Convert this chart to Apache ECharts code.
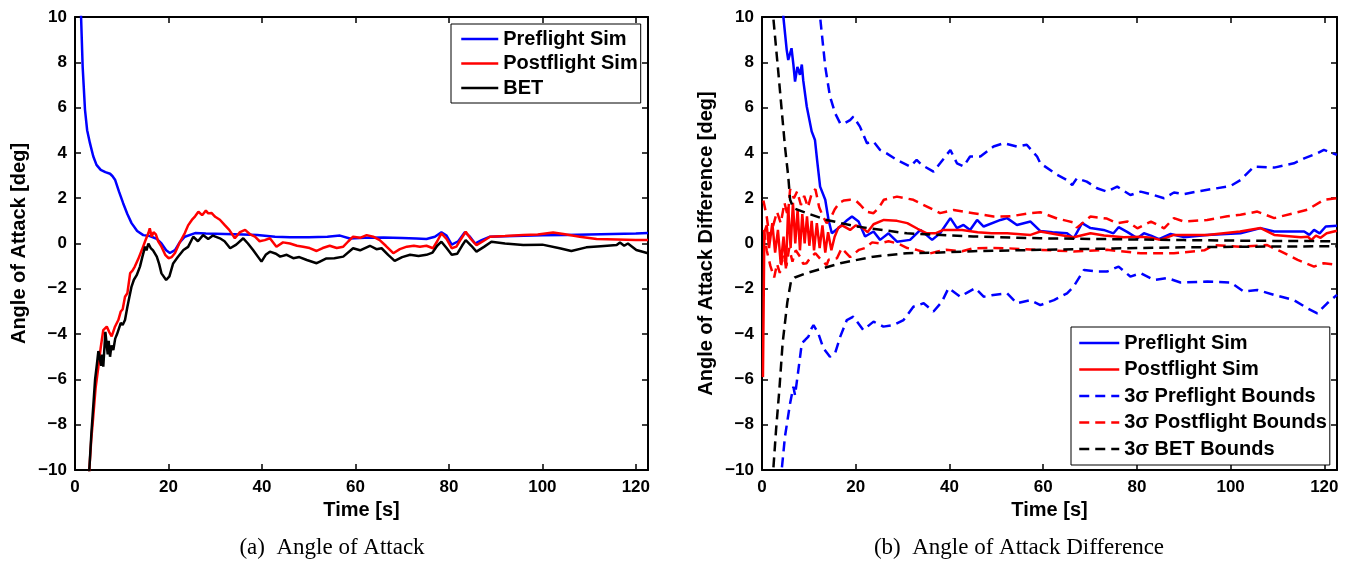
<!DOCTYPE html>
<html><head><meta charset="utf-8">
<script src="https://cdn.jsdelivr.net/npm/echarts/dist/echarts.min.js"></script>
<style>html,body{margin:0;padding:0;background:#fff}#c{width:1355px;height:561px}</style>
</head><body><div id="c"></div><script>
// ---------- axis / tick data ----------
const xTicks = [0, 20, 40, 60, 80, 100, 120];
const yTicks = [-10, -8, -6, -4, -2, 0, 2, 4, 6, 8, 10];
const xMaxLeft = 122.6, xMaxRight = 122.7;
const legendLeft = ['Preflight Sim', 'Postflight Sim', 'BET'];
const legendRight = ['Preflight Sim', 'Postflight Sim', '3σ Preflight Bounds', '3σ Postflight Bounds', '3σ BET Bounds'];
const captions = ['(a)  Angle of Attack', '(b)  Angle of Attack Difference'];

// ---------- (a) Angle of Attack  [time s, deg] ----------
const aoaPreflight = [[0.5,14],[1.3,10.0],[1.64,7.8],[2.14,5.9],[2.6,5.0],[3.2,4.43],[3.9,3.85],[4.6,3.47],[5.5,3.25],[6.5,3.15],[7.5,3.08],[8.0,2.98],[8.6,2.8],[9.4,2.3],[10.3,1.78],[11.2,1.3],[12.1,0.9],[13.3,0.55],[14.6,0.37],[16,0.33],[17.5,0.2],[18.5,0.0],[19.5,-0.3],[20.3,-0.42],[21.4,-0.29],[22.4,0.05],[23.5,0.3],[25.7,0.46],[28,0.44],[32,0.42],[36,0.4],[39,0.38],[42.8,0.3],[46,0.28],[50,0.28],[54,0.3],[56.7,0.35],[58.8,0.22],[62,0.25],[66,0.26],[70,0.24],[73,0.22],[75.2,0.2],[77,0.3],[78.4,0.5],[79.5,0.35],[80.6,-0.05],[82,0.1],[83.4,0.5],[84.5,0.3],[85.6,0.0],[87,0.15],[88.8,0.3],[92,0.32],[96,0.34],[100,0.36],[105,0.38],[110,0.4],[115,0.42],[120,0.44],[122.6,0.46]];
const aoaPostflight = [[2.9,-11],[3.06,-10],[3.5,-8.6],[3.9,-7.65],[4.4,-6.4],[5.0,-5.44],[5.5,-4.6],[6.05,-3.82],[6.8,-3.67],[7.3,-3.9],[7.85,-4.1],[8.5,-3.7],[9.27,-3.38],[9.8,-3.0],[10.2,-2.9],[10.7,-2.35],[11.2,-2.2],[11.8,-1.31],[12.3,-1.2],[12.8,-1.02],[13.5,-0.7],[14.3,-0.29],[15,0.1],[15.7,0.46],[16.0,0.67],[16.4,0.3],[16.8,0.5],[17.3,0.4],[17.8,0.1],[18.5,-0.14],[19.3,-0.5],[20,-0.65],[20.7,-0.6],[21.4,-0.42],[22.3,0.0],[23.5,0.46],[24.2,0.8],[25,1.04],[25.7,1.2],[26.4,1.4],[27.2,1.25],[28.0,1.45],[28.5,1.33],[29.2,1.35],[30,1.18],[31,1.05],[32,0.82],[33,0.6],[34.2,0.23],[35.3,0.5],[36.4,0.6],[37.5,0.4],[38.5,0.3],[39.5,0.1],[40.6,0.15],[41.7,0.23],[43.1,-0.14],[44.5,0.05],[46,0.0],[47.5,-0.1],[48.8,-0.14],[50.2,-0.2],[51.7,-0.33],[53,-0.2],[54.5,-0.1],[56,-0.2],[57.4,-0.14],[58.5,0.1],[59.5,0.3],[61,0.25],[62.4,0.37],[63.8,0.3],[65.2,0.15],[66.5,-0.1],[68.1,-0.43],[69.5,-0.25],[71,-0.14],[72.5,-0.1],[73.8,-0.14],[75.2,-0.1],[76.6,-0.21],[77.5,0.1],[78.4,0.45],[79.5,0.2],[80.6,-0.21],[81.6,-0.14],[82.6,0.2],[83.6,0.52],[84.7,0.2],[85.9,-0.07],[87.3,0.1],[88.8,0.3],[92,0.33],[95.9,0.37],[99,0.4],[102.3,0.49],[104.5,0.42],[108,0.3],[111.6,0.2],[116,0.18],[120,0.16],[122.6,0.15]];
const aoaBET = [[2.9,-11],[3.06,-10],[3.5,-8.4],[4.0,-6.9],[4.3,-6.0],[4.7,-5.3],[5.0,-4.75],[5.35,-4.78],[5.6,-5.4],[5.8,-4.9],[6.05,-5.44],[6.3,-4.6],[6.5,-3.9],[6.8,-3.95],[7.0,-4.9],[7.2,-4.3],[7.5,-5.0],[7.8,-4.5],[8.2,-4.7],[8.6,-4.2],[9.0,-4.0],[9.3,-3.96],[9.8,-3.5],[10.2,-3.6],[10.7,-3.38],[11.2,-2.8],[11.6,-2.4],[12.1,-1.9],[12.6,-1.6],[13.2,-1.4],[13.9,-1.02],[14.4,-0.6],[15,-0.14],[15.3,-0.3],[15.7,0.0],[16.2,-0.2],[16.7,-0.3],[17.5,-0.58],[18.0,-0.9],[18.5,-1.32],[19.5,-1.61],[20.2,-1.45],[21,-0.88],[22,-0.6],[23.2,-0.29],[24.2,-0.15],[25.3,0.3],[26.3,0.1],[27.4,0.37],[28.5,0.2],[29.5,0.35],[31,0.23],[32,0.1],[33.2,-0.21],[34.5,-0.05],[36,0.23],[37,0.0],[38.1,-0.29],[39.9,-0.8],[40.8,-0.5],[41.7,-0.36],[43,-0.45],[43.9,-0.58],[45.3,-0.5],[46.7,-0.65],[48,-0.6],[49.6,-0.73],[51.7,-0.87],[52.4,-0.8],[53.8,-0.66],[55.5,-0.65],[57.4,-0.58],[59.5,-0.21],[61,-0.3],[63.1,-0.1],[64.5,-0.25],[65.6,-0.21],[67,-0.5],[68.4,-0.77],[70,-0.6],[71.7,-0.5],[73.5,-0.55],[75.2,-0.5],[76.5,-0.4],[77.5,-0.1],[78.4,0.08],[79.5,-0.2],[80.6,-0.5],[81.8,-0.45],[82.8,-0.1],[83.6,0.15],[84.8,-0.1],[85.9,-0.36],[87.5,-0.15],[89.1,0.08],[92,0.0],[95.9,-0.07],[100,-0.05],[103.7,-0.21],[106.2,-0.33],[109.4,-0.17],[112.5,-0.12],[115.9,-0.07],[116.6,0.04],[117.5,-0.1],[118.3,0.0],[120.1,-0.29],[122.6,-0.43]];

// ---------- (b) Angle of Attack Difference  [time s, deg] ----------
const diffPreflight = [[4.0,12],[4.56,10],[5.27,8.55],[5.6,8.1],[6.3,8.62],[6.7,7.9],[7.05,7.15],[7.55,7.8],[8.1,7.45],[8.5,7.9],[8.8,7.2],[9.55,6.05],[10.6,4.95],[11.3,4.57],[11.8,3.6],[12.4,2.51],[13.5,1.93],[14.2,1.04],[14.9,0.45],[15.8,0.6],[16.7,0.75],[18,1.0],[19.2,1.19],[20.6,0.97],[22,0.31],[23.8,0.53],[25.2,0.16],[27,0.45],[28.8,0.08],[31.6,0.16],[33.8,0.6],[36.3,0.16],[38,0.45],[40.2,1.12],[41.6,0.68],[43,0.82],[44.4,0.6],[45.9,1.04],[47.3,0.75],[50.9,1.04],[52.3,1.12],[54.4,0.82],[57.3,0.97],[59.4,0.55],[62,0.5],[65.1,0.45],[66.5,0.23],[68.3,0.9],[70.1,0.68],[72.9,0.6],[75,0.45],[76.1,0.72],[78,0.5],[80.1,0.23],[81.5,0.45],[83,0.35],[84.7,0.19],[87.2,0.42],[90,0.28],[95,0.38],[102.1,0.45],[106.4,0.68],[109.3,0.53],[115.7,0.53],[116.8,0.38],[117.8,0.6],[119,0.45],[120.3,0.75],[122.7,0.78]];
const diffPostflight = [[0.2,-5.9],[0.5,0.5],[1.0,0.8],[1.5,-0.2],[2.2,0.9],[2.8,-0.4],[3.4,0.6],[4.0,-0.9],[4.6,0.3],[5.1,-1.1],[5.6,1.6],[6.1,-0.2],[6.6,1.8],[7.1,0.0],[7.6,1.5],[8.1,-0.3],[8.6,1.3],[9.1,0.0],[9.6,1.2],[10.1,-0.1],[10.6,1.0],[11.1,-0.3],[11.7,0.9],[12.3,-0.2],[12.9,0.8],[13.5,-0.4],[14.1,0.5],[14.8,-0.3],[15.5,0.3],[16.3,0.7],[17.1,0.8],[18.8,0.6],[20,0.8],[21.4,0.7],[22.5,0.5],[23.8,0.85],[26,1.04],[28.8,1.0],[31,0.9],[33.2,0.65],[35.2,0.45],[37,0.45],[38.7,0.6],[42.7,0.6],[46,0.5],[49,0.45],[52.3,0.45],[57.3,0.38],[59.4,0.53],[63,0.4],[66.5,0.28],[70.1,0.45],[73,0.35],[77.2,0.28],[80.8,0.3],[83,0.25],[85,0.16],[87.9,0.38],[95,0.38],[102,0.53],[106.4,0.68],[109.3,0.38],[115,0.28],[116.5,0.3],[117.2,0.15],[118.2,0.35],[119.2,0.25],[120.5,0.45],[122.7,0.56]];
const preflightUpper = [[12,12],[12.4,10],[13.5,7.8],[14.5,6.5],[15.6,5.75],[16.7,5.3],[17.5,5.3],[18.8,5.45],[19.5,5.6],[20.9,5.16],[22.4,4.43],[23.8,4.5],[25.2,4.13],[26.6,3.98],[28.8,3.69],[31.6,3.4],[33,3.69],[34.1,3.47],[36.6,3.17],[38,3.54],[40.2,4.13],[41.6,3.54],[43,3.4],[44.4,3.84],[46.6,3.84],[49.4,4.28],[51.6,4.43],[54.4,4.28],[56.5,4.36],[58.7,3.84],[59.4,3.54],[63,3.03],[65.1,2.8],[66.2,2.58],[67.2,2.88],[69.3,2.73],[71.5,2.44],[73.6,2.29],[75.8,2.51],[78.6,2.14],[80.8,2.29],[83.6,2.14],[85.8,2.0],[87.9,2.25],[90,2.18],[93.6,2.32],[100,2.54],[102.1,2.8],[105,3.4],[109.3,3.35],[113.5,3.54],[115.7,3.76],[118.5,3.98],[119.9,4.13],[122.7,3.91]];
const preflightLower = [[3.9,-12],[4.2,-10],[4.9,-8.53],[6.0,-7.05],[6.7,-6.32],[7.05,-6.7],[7.76,-5.59],[8.5,-4.4],[9.2,-4.26],[9.9,-4.11],[10.6,-3.74],[11,-3.6],[12,-3.96],[13.1,-4.62],[14.5,-5.0],[15.6,-4.84],[16.7,-4.11],[18.1,-3.38],[19.5,-3.23],[21.6,-3.82],[23.8,-3.45],[25.9,-3.67],[28.1,-3.6],[30.2,-3.38],[32.3,-2.79],[34.5,-2.64],[36.6,-3.0],[38.4,-2.57],[39.8,-1.97],[42.3,-2.35],[43.5,-2.2],[45.5,-1.97],[47.3,-2.35],[49.4,-2.27],[52.3,-2.2],[54.4,-2.64],[57.3,-2.5],[59.4,-2.72],[62.3,-2.5],[65.1,-2.2],[66.5,-1.9],[68.7,-1.17],[71.5,-1.24],[73.6,-1.24],[76.1,-1.02],[78.6,-1.46],[80.8,-1.31],[83.6,-1.61],[86.5,-1.53],[89.3,-1.72],[95,-1.68],[100,-1.72],[102.8,-2.12],[105.7,-2.05],[109.3,-2.27],[113.5,-2.5],[116.4,-2.86],[118.5,-3.08],[120.6,-2.64],[122.7,-2.27]];
const postflightUpper = [[0.3,1.9],[1.0,1.2],[1.6,0.3],[2.4,0.8],[3.2,1.4],[4.0,0.9],[4.8,1.8],[5.5,1.2],[6.0,2.4],[6.8,2.0],[7.5,2.3],[8.3,1.7],[9.0,2.1],[9.8,1.6],[10.6,2.2],[11.4,2.4],[12.2,1.6],[13.0,1.2],[13.8,0.9],[14.6,1.1],[15.5,1.5],[16.5,1.8],[17.5,1.9],[18.8,1.93],[20,1.9],[21,1.7],[22.3,1.4],[23.8,1.34],[25,1.6],[26,1.93],[28.8,2.07],[30.5,2.0],[32.3,1.93],[35.2,1.63],[38,1.34],[40.9,1.48],[45.1,1.34],[49.4,1.19],[53,1.2],[57.3,1.34],[59.4,1.38],[63,1.1],[65.1,1.0],[66.5,0.93],[67.2,0.7],[70.1,1.19],[73.6,1.1],[75.8,0.9],[78,0.97],[80.1,0.67],[83,0.97],[85.8,0.67],[87.9,1.12],[90,0.97],[95,1.04],[99.3,1.2],[102.1,1.27],[105.7,1.41],[109.3,1.12],[113.5,1.34],[116.4,1.49],[119.9,1.93],[122.7,2.0]];
const postflightLower = [[0.4,0.6],[1.0,-0.3],[1.8,-1.0],[2.6,-1.5],[3.2,-0.9],[3.8,-1.3],[4.5,-0.5],[5.2,-1.0],[5.8,-0.2],[6.5,-0.8],[7.2,-0.3],[8.1,-0.58],[8.8,-0.9],[9.5,-0.87],[10.4,-0.6],[11.4,-0.43],[12.5,-0.7],[13.8,-0.95],[14.2,-0.72],[16,-0.65],[17,-0.21],[18.8,-0.6],[20.7,-0.28],[22,-0.2],[23.5,0.05],[25.2,0.0],[27,0.1],[29,0.0],[31,-0.2],[33,-0.28],[35.6,-0.45],[37.5,-0.35],[39.3,-0.28],[42.7,-0.34],[45.1,-0.21],[48,-0.2],[52.3,-0.21],[56,-0.25],[59.4,-0.28],[66.5,-0.35],[73.6,-0.28],[80.8,-0.43],[87.9,-0.43],[94.4,-0.3],[96.5,-0.07],[102.1,-0.14],[107.8,-0.07],[110.7,-0.35],[114.3,-0.72],[117.8,-1.02],[119.9,-0.87],[122.7,-0.95]];
const betUpper = [[2.2,12],[2.4,10],[3.5,7.52],[4.2,5.9],[4.9,4.28],[5.6,2.96],[6.0,1.93],[6.7,1.56],[9.55,1.34],[13.8,1.04],[20.2,0.75],[30.9,0.45],[45.1,0.31],[59.4,0.23],[75,0.19],[90,0.15],[105,0.12],[122.7,0.1]];
const betLower = [[2.2,-12],[2.4,-10],[3.0,-8.23],[3.7,-6.46],[4.4,-4.4],[5.4,-2.6],[6.2,-1.65],[7,-1.5],[9.5,-1.31],[16.7,-0.87],[23.8,-0.58],[30.9,-0.43],[38,-0.4],[45.1,-0.34],[59.4,-0.28],[75,-0.22],[90,-0.17],[105,-0.14],[122.7,-0.12]];

// ---------- styling / layout ----------
const SANS = '"Liberation Sans", Arial, Helvetica, sans-serif';
const SERIF = '"Liberation Serif", "Times New Roman", serif';
const BLUE = '#0000ff', RED = '#ff0000', BLACK = '#000000';
const DASH = [10, 6];
const LW = 2.5;
const grids = [
  {left: 75, top: 17, width: 573, height: 453},
  {left: 762, top: 17, width: 575, height: 453}
];
const fmtY = v => v < 0 ? '\u2212' + Math.abs(v) : String(v);
const fmtX = v => (xTicks.indexOf(v) >= 0 ? String(v) : '');

function xAx(gi, max, pos, name) {
  const main = pos === 'bottom';
  return {
    type: 'value', gridIndex: gi, position: pos, min: xTicks[0], max: max, interval: 20,
    axisLine: {show: true, onZero: false, lineStyle: {color: BLACK, width: 2}},
    axisTick: {show: true, inside: true, length: 6, lineStyle: {color: BLACK, width: 1.5}},
    axisLabel: {show: main, margin: 9, showMaxLabel: false, formatter: fmtX,
      fontFamily: SANS, fontWeight: 'bold', fontSize: 17, color: BLACK},
    splitLine: {show: false},
    name: main ? name : '', nameLocation: 'middle', nameGap: 27,
    nameTextStyle: {fontFamily: SANS, fontWeight: 'bold', fontSize: 20, color: BLACK}
  };
}
function yAx(gi, pos, name) {
  const main = pos === 'left';
  return {
    type: 'value', gridIndex: gi, position: pos, min: yTicks[0], max: yTicks[yTicks.length - 1], interval: 2,
    axisLine: {show: true, onZero: false, lineStyle: {color: BLACK, width: 2}},
    axisTick: {show: true, inside: true, length: 6, lineStyle: {color: BLACK, width: 1.5}},
    axisLabel: {show: main, margin: 8, formatter: fmtY,
      fontFamily: SANS, fontWeight: 'bold', fontSize: 17, color: BLACK},
    splitLine: {show: false},
    name: main ? name : '', nameLocation: 'middle', nameGap: 46,
    nameTextStyle: {fontFamily: SANS, fontWeight: 'bold', fontSize: 20, color: BLACK}
  };
}
function line(name, data, color, dashed, xi, yi) {
  return {
    type: 'line', name: name, data: data, xAxisIndex: xi, yAxisIndex: yi,
    showSymbol: false, symbol: 'none', clip: true, animation: false,
    lineStyle: {color: color, width: LW, type: dashed ? DASH : 'solid'},
    itemStyle: {color: color}
  };
}
const legendText = {fontFamily: SANS, fontWeight: 'bold', fontSize: 20, color: BLACK};
const legendCommon = {
  orient: 'vertical', itemHeight: 14, borderColor: BLACK, borderWidth: 1,
  backgroundColor: '#fff', textStyle: legendText, selectedMode: false,
  itemStyle: {opacity: 0, borderWidth: 0},
  lineStyle: {width: LW}
};

const option = {
  animation: false,
  backgroundColor: '#ffffff',
  grid: grids,
  xAxis: [xAx(0, xMaxLeft, 'bottom', 'Time [s]'), xAx(0, xMaxLeft, 'top', ''),
          xAx(1, xMaxRight, 'bottom', 'Time [s]'), xAx(1, xMaxRight, 'top', '')],
  yAxis: [yAx(0, 'left', 'Angle of Attack [deg]'), yAx(0, 'right', ''),
          yAx(1, 'left', 'Angle of Attack Difference [deg]'), yAx(1, 'right', '')],
  legend: [
    Object.assign({}, legendCommon, {data: legendLeft, left: 451, top: 24, itemWidth: 37,
      itemGap: 4.5, padding: [5, 3, 5, 9]}),
    Object.assign({}, legendCommon, {data: legendRight, left: 1071, top: 327, itemWidth: 40,
      itemGap: 6.5, padding: [6, 3, 6, 7]})
  ],
  series: [
    line('Preflight Sim', aoaPreflight, BLUE, false, 0, 0),
    line('Postflight Sim', aoaPostflight, RED, false, 0, 0),
    line('BET', aoaBET, BLACK, false, 0, 0),
    line('Preflight Sim', diffPreflight, BLUE, false, 2, 2),
    line('Postflight Sim', diffPostflight, RED, false, 2, 2),
    line('3σ Preflight Bounds', preflightUpper, BLUE, true, 2, 2),
    line('3σ Preflight Bounds', preflightLower, BLUE, true, 2, 2),
    line('3σ Postflight Bounds', postflightUpper, RED, true, 2, 2),
    line('3σ Postflight Bounds', postflightLower, RED, true, 2, 2),
    line('3σ BET Bounds', betUpper, BLACK, true, 2, 2),
    line('3σ BET Bounds', betLower, BLACK, true, 2, 2)
  ],
  graphic: [
    {type: 'text', x: 332, y: 548, silent: true,
     style: {text: captions[0], font: '23px ' + SERIF, fill: BLACK, align: 'center', verticalAlign: 'middle'}},
    {type: 'text', x: 1019, y: 548, silent: true,
     style: {text: captions[1], font: '23px ' + SERIF, fill: BLACK, align: 'center', verticalAlign: 'middle'}}
  ]
};
const chart = echarts.init(document.getElementById('c'), null, {renderer: 'canvas'});
chart.setOption(option);
</script></body></html>
